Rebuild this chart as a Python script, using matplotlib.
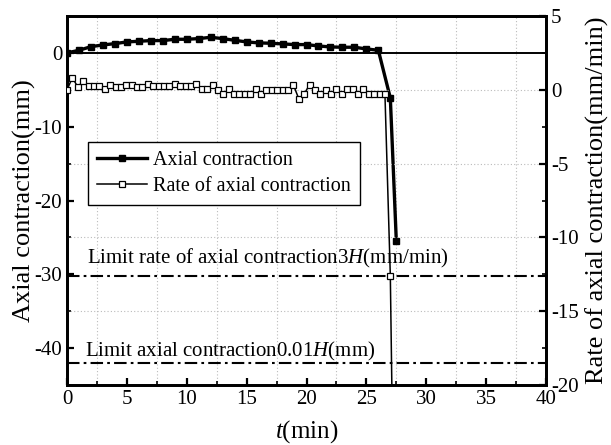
import matplotlib
matplotlib.use("Agg")
import matplotlib.pyplot as plt
from matplotlib.ticker import MultipleLocator, FixedLocator

plt.rcParams['font.family'] = ['Liberation Serif', 'DejaVu Serif']
plt.rcParams['mathtext.fontset'] = 'custom'
plt.rcParams['mathtext.rm'] = 'Liberation Serif'
plt.rcParams['mathtext.it'] = 'Liberation Serif:italic'
plt.rcParams['axes.unicode_minus'] = False

# ---- data ----
axial_t = [0, 1, 2, 3, 4, 5, 6, 7, 8, 9, 10, 11, 12, 13, 14, 15, 16, 17, 18, 19,
           20, 21, 22, 23, 24, 25, 26, 27, 27.5]
axial_mm = [0, 0.36, 0.85, 1.08, 1.26, 1.49, 1.58, 1.67, 1.67, 1.85, 1.85, 1.94, 2.12,
            1.94, 1.71, 1.49, 1.36, 1.31, 1.22, 1.13, 1.13, 0.94, 0.81, 0.77, 0.77,
            0.54, 0.36, -6.1, -25.5]

rate_t = [0.0, 0.45, 0.9, 1.35, 1.8, 2.25, 2.7, 3.15, 3.6, 4.05, 4.5, 4.95, 5.4, 5.85,
          6.3, 6.75, 7.2, 7.65, 8.1, 8.55, 9.0, 9.45, 9.9, 10.35, 10.8, 11.25, 11.7,
          12.15, 12.6, 13.05, 13.5, 13.95, 14.4, 14.85, 15.3, 15.75, 16.2, 16.65, 17.1,
          17.55, 18.0, 18.45, 18.9, 19.35, 19.8, 20.25, 20.7, 21.15, 21.6, 22.05, 22.5,
          22.95, 23.4, 23.85, 24.3, 24.75, 25.2, 25.65, 26.1, 26.55, 27.0, 27.45]
rate_mm_min = [0.0, 0.83, 0.18, 0.61, 0.27, 0.27, 0.27, 0.07, 0.34, 0.16, 0.16, 0.34,
               0.34, 0.16, 0.16, 0.38, 0.23, 0.23, 0.23, 0.23, 0.38, 0.23, 0.23, 0.23,
               0.38, 0.05, 0.05, 0.3, 0.0, -0.3, 0.05, -0.3, -0.3, -0.3, -0.3, 0.05,
               -0.3, 0.0, 0.0, 0.0, 0.0, 0.0, 0.35, -0.6, -0.3, 0.35, 0.0, -0.3, 0.0,
               -0.3, 0.05, -0.3, 0.05, 0.05, -0.3, 0.05, -0.3, -0.3, -0.3, -0.3,
               -12.6, -39.0]

limit_rate = -12.6      # 3H (mm/min), right axis
limit_axial = -42.0     # 0.01H (mm), left axis

x_ticks = [0, 5, 10, 15, 20, 25, 30, 35, 40]
left_ticks = [0, -10, -20, -30, -40]
right_ticks = [5, 0, -5, -10, -15, -20]

label_axial = 'Axial contraction'
label_rate = 'Rate of axial contraction'
text_rate_limit = 'Limit rate of axial contraction3$H$(mm/min)'
text_axial_limit = 'Limit axial contraction0.01$H$(mm)'

# ---- figure ----
fig = plt.figure(figsize=(6.11, 4.45), dpi=100)
ax = fig.add_axes([0.1097, 0.1348, 0.7839, 0.8292])
ax2 = ax.twinx()

FS = 15
LFS = 19
ax.set_xlim(0, 40)
ax.set_ylim(-45, 5)
ax2.set_ylim(-20, 5)

ax.xaxis.set_major_locator(FixedLocator(x_ticks))
ax.xaxis.set_minor_locator(MultipleLocator(2.5))
ax.yaxis.set_major_locator(FixedLocator(left_ticks))
ax.yaxis.set_minor_locator(MultipleLocator(5))
ax2.yaxis.set_major_locator(FixedLocator(right_ticks))
ax2.yaxis.set_minor_locator(MultipleLocator(2.5))

for a in (ax, ax2):
    a.tick_params(which='major', direction='in', length=5, width=1.6, labelsize=FS)
    a.tick_params(which='minor', direction='in', length=3, width=1.2)
    for s in a.spines.values():
        s.set_linewidth(2.0)
ax.tick_params(which='both', top=False, right=False)
ax2.tick_params(which='both', left=False, right=True)

# grid: vertical at minor x, horizontal at right major ticks
for xv in [2.5, 7.5, 12.5, 17.5, 22.5, 27.5, 32.5, 37.5]:
    ax.axvline(xv, color='#bbbbbb', lw=0.8, ls=(0, (1, 2)), zorder=0)
for yv in [0, -5, -10, -15]:
    ax2.axhline(yv, color='#bbbbbb', lw=0.8, ls=(0, (1, 2)), zorder=0)

ax.axhline(0, color='black', lw=1.4, zorder=1)

l1, = ax.plot(axial_t, axial_mm, color='black', lw=2.4, marker='s', ms=4.2,
              mfc='black', mec='black', label=label_axial, zorder=3)
l2, = ax2.plot(rate_t, rate_mm_min, color='black', lw=1.1, marker='s', ms=3.8,
               mfc='white', mec='black', mew=0.9, label=label_rate, zorder=3)

dd = (0, (6, 2, 1.3, 2))
ax2.axhline(limit_rate, color='black', lw=1.5, ls=dd, zorder=2)
ax.axhline(limit_axial, color='black', lw=1.5, ls=dd, zorder=2)

ax.text(1.65, -28.6, text_rate_limit, fontsize=FS, ha='left', va='baseline')
ax.text(1.5, -41.2, text_axial_limit, fontsize=FS, ha='left', va='baseline')

ax.set_xlabel('$t$(min)', fontsize=18, labelpad=7)
ax.set_ylabel('Axial contraction(mm)', fontsize=LFS, labelpad=-1)
ax2.set_ylabel('Rate of axial contraction(mm/min)', fontsize=LFS, labelpad=5)

leg = ax2.legend(handles=[l1, l2], loc='upper left', bbox_to_anchor=(0.0438, 0.6585),
                 fontsize=14.5, frameon=True, fancybox=False, framealpha=1,
                 edgecolor='black', handlelength=2.5, handletextpad=0.3,
                 borderpad=0.45, labelspacing=0.35, borderaxespad=0)
leg.get_frame().set_linewidth(1.0)

fig.savefig('out.png', dpi=100)
